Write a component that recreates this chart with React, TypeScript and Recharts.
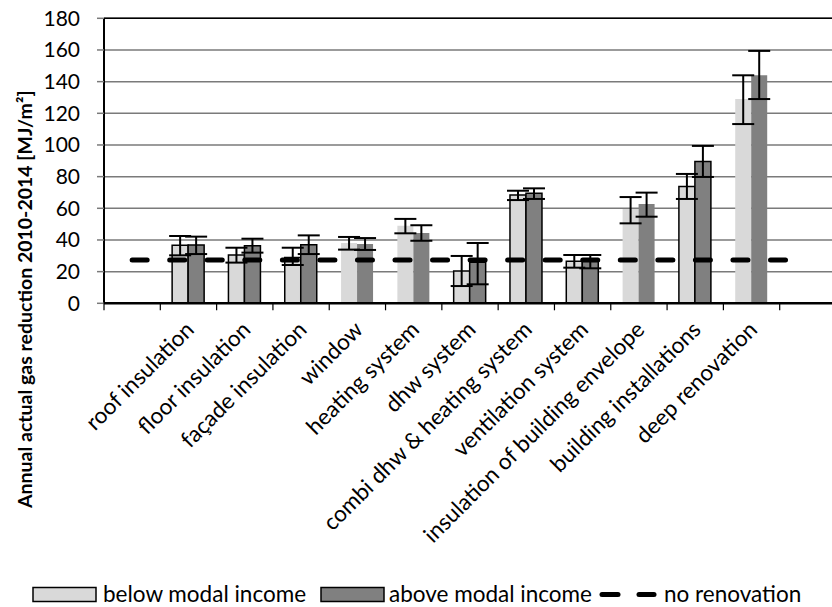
import React from "react";
import { ComposedChart, Bar, Line, XAxis, YAxis, CartesianGrid, ErrorBar, Cell, ReferenceLine } from "recharts";

const categories = ["", "roof insulation", "floor insulation", "façade insulation", "window", "heating system", "dhw system", "combi dhw & heating system", "ventilation system", "insulation of building envelope", "building installations", "deep renovation", ""];
const below = [null, 36.6, 30.5, 29, 38.1, 49, 20.4, 68.4, 26.5, 59.6, 73.7, 129, null];
const belowLow = [null, 30.3, 25.7, 24.2, 33.9, 44.2, 10.9, 65.2, 22.5, 50.5, 65.9, 113.2, null];
const belowHigh = [null, 42.5, 35.1, 35.1, 41.9, 53.3, 29.9, 71.1, 30.5, 67.1, 81.7, 144, null];
const above = [null, 36.8, 36.4, 37, 37.5, 44.4, 25.9, 69.5, 27.5, 62.7, 89.5, 144, null];
const aboveLow = [null, 31.1, 32, 31.1, 33.7, 39.5, 12, 65.9, 22.1, 54.7, 79.8, 129, null];
const aboveHigh = [null, 42.1, 40.8, 42.9, 41.2, 49.3, 38.1, 72.6, 30.5, 69.9, 99.4, 159.4, null];
const noRenovation = [27.3, 27.3, 27.3, 27.3, 27.3, 27.3, 27.3, 27.3, 27.3, 27.3, 27.3, 27.3, 27.3];
const outlined = [false, true, true, true, false, false, true, true, true, false, true, false, false];
const yTicks = [0, 20, 40, 60, 80, 100, 120, 140, 160, 180];

const data = categories.map((c, i) => ({
  cat: c,
  below: below[i],
  above: above[i],
  belowErr: below[i] == null ? undefined : [below[i]! - belowLow[i]!, belowHigh[i]! - below[i]!],
  aboveErr: above[i] == null ? undefined : [above[i]! - aboveLow[i]!, aboveHigh[i]! - above[i]!],
  none: noRenovation[i],
}));

const FONT = "Lato";
const PLOT_BOTTOM = 303.3;
const HALF_SLOT = 28.15;

const XTick = (props: any) => {
  const { x, payload } = props;
  const ax = x + 7;
  const ay = 331;
  return (
    <g>
      <line x1={x - HALF_SLOT} y1={PLOT_BOTTOM} x2={x - HALF_SLOT} y2={PLOT_BOTTOM + 7} stroke="#000" strokeWidth={1.2} />
      {payload.value ? (
        <text x={ax} y={ay} transform={`rotate(-45 ${ax} ${ay})`} textAnchor="end" fontFamily={FONT} fontSize={22.5} fill="#000">
          {payload.value}
        </text>
      ) : null}
    </g>
  );
};

export default function App() {
  return (
    <div style={{ position: "absolute", left: 0, top: 0, width: 832, height: 607, overflow: "hidden", background: "#fff" }}>
      <ComposedChart width={850} height={607} data={data} margin={{ top: 18.3, right: 14, bottom: 0, left: 0 }} barCategoryGap="21%" barGap={0}>
        <CartesianGrid horizontal vertical={false} stroke="#7a7a7a" strokeWidth={1.5} />
        <XAxis dataKey="cat" interval={0} height={303.7} tickLine={false} axisLine={{ stroke: "#000", strokeWidth: 2.5 }} tick={<XTick />} />
        <YAxis
          width={104}
          domain={[0, 180]}
          ticks={yTicks}
          interval={0}
          tickSize={7}
          tickMargin={17}
          tickLine={{ stroke: "#7a7a7a", strokeWidth: 1.5 }}
          axisLine={{ stroke: "#000", strokeWidth: 2 }}
          tick={{ fontFamily: FONT, fontSize: 21, fill: "#000" }}
        />
        <ReferenceLine y={180} stroke="#000" strokeWidth={1.5} />
        <Bar dataKey="below" fill="#d9d9d9" isAnimationActive={false}>
          {data.map((d, i) => (
            <Cell key={i} fill="#d9d9d9" stroke={outlined[i] ? "#000" : "none"} strokeWidth={1.5} />
          ))}
          <ErrorBar dataKey="belowErr" width={11} stroke="#000" strokeWidth={2} direction="y" />
        </Bar>
        <Bar dataKey="above" fill="#808080" isAnimationActive={false}>
          {data.map((d, i) => (
            <Cell key={i} fill="#808080" stroke={outlined[i] ? "#000" : "none"} strokeWidth={1.5} />
          ))}
          <ErrorBar dataKey="aboveErr" width={11} stroke="#000" strokeWidth={2} direction="y" />
        </Bar>
        <Line dataKey="none" stroke="#000" strokeWidth={5} strokeDasharray="15 22.55" strokeLinecap="round" dot={false} activeDot={false} isAnimationActive={false} />
      </ComposedChart>
      <svg width={832} height={607} style={{ position: "absolute", left: 0, top: 0, pointerEvents: "none" }}>
        <text x={32} y={508} transform="rotate(-90 32 508)" fontFamily={FONT} fontWeight="bold" fontSize={19.5} fill="#000">
          Annual actual gas reduction 2010-2014 [MJ/m²]
        </text>
        <rect x={33} y={587.5} width={63} height={14} fill="#d9d9d9" stroke="#000" strokeWidth={1.5} />
        <text x={103} y={602} fontFamily={FONT} fontSize={22.5} fill="#000">below modal income</text>
        <rect x={321} y={587.5} width={63} height={14} fill="#808080" stroke="#000" strokeWidth={1.5} />
        <text x={389} y={602} fontFamily={FONT} fontSize={22.5} fill="#000">above modal income</text>
        <line x1={602} y1={594.5} x2={618} y2={594.5} stroke="#000" strokeWidth={5} strokeLinecap="round" />
        <line x1={639} y1={594.5} x2={654} y2={594.5} stroke="#000" strokeWidth={5} strokeLinecap="round" />
        <text x={664} y={602} fontFamily={FONT} fontSize={22.5} fill="#000">no renovation</text>
      </svg>
    </div>
  );
}
